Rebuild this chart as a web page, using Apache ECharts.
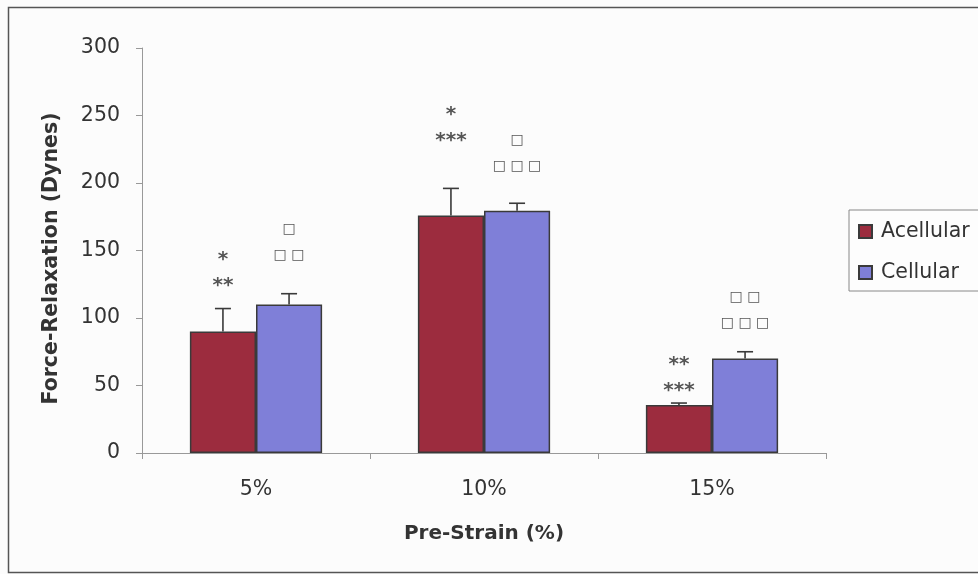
<!DOCTYPE html>
<html>
<head>
<meta charset="utf-8">
<script src="https://cdn.jsdelivr.net/npm/echarts@6/dist/echarts.min.js"></script>
<style>
  html, body { margin: 0; padding: 0; background: #fcfcfc; }
  #chart { width: 978px; height: 574px; }
</style>
</head>
<body>
<div id="chart"></div>
<script>
// Pre-strain levels on the x axis
const categories = ['5%', '10%', '15%'];

// Mean force relaxation (dynes) and upper error (SEM)
const acellular = [90, 176, 35.5];
const acellularErr = [17, 20, 1.5];
const cellular = [110, 179.5, 70];
const cellularErr = [8, 5.5, 5];

// Significance markers: [lower row, upper row] per group
const acellularSig = [['**', '*'], ['***', '*'], ['***', '**']];
const cellularSig = [['□ □', '□'], ['□ □ □', '□'], ['□ □ □', '□ □']];
// Axis value at which the lower marker row sits
const acellularSigLevel = [126.7, 234, 49];
const cellularSigLevel = [146.7, 212, 96.3];

const yTicks = { min: 0, max: 300, interval: 50 };

const FONT = 'DejaVu Sans';
const TEXT = '#333333';
const CAT_GAP = 0.42;

const chart = echarts.init(document.getElementById('chart'), null, { renderer: 'canvas' });

// side: -1 for the left bar of a group, +1 for the right bar
function barCenterX(api, i, side) {
  const c = api.coord([i, 0])[0];
  const catW = api.size([1, 0])[0];
  const barW = catW * (1 - CAT_GAP) / 2;
  return c + side * barW / 2;
}

function errorSeries(values, errs, side) {
  return {
    type: 'custom',
    silent: true,
    z: 4,
    encode: { x: 0, y: 1 },
    data: values.map((v, i) => [i, v, errs[i]]),
    renderItem: function (params, api) {
      const i = api.value(0), v = api.value(1), e = api.value(2);
      const x = barCenterX(api, i, side);
      const y0 = api.coord([i, v])[1];
      const y1 = api.coord([i, v + e])[1];
      const st = { stroke: '#3a3a3a', lineWidth: 1.6 };
      return {
        type: 'group',
        children: [
          { type: 'line', shape: { x1: x, y1: y0, x2: x, y2: y1 }, style: st },
          { type: 'line', shape: { x1: x - 8, y1: y1, x2: x + 8, y2: y1 }, style: st }
        ]
      };
    }
  };
}

function sigSeries(marks, levels, side, fontSize, dy, weight) {
  return {
    type: 'custom',
    silent: true,
    z: 5,
    encode: { x: 0, y: 1 },
    data: levels.map((lv, i) => [i, lv]),
    renderItem: function (params, api) {
      const i = api.value(0), lv = api.value(1);
      const x = barCenterX(api, i, side);
      const y = api.coord([i, lv])[1] + dy;
      const rows = marks[i];
      return {
        type: 'group',
        children: rows.map((t, k) => ({
          type: 'text',
          style: {
            text: t, x: x, y: y - k * 26,
            align: 'center', verticalAlign: 'middle',
            fontSize: fontSize, fontFamily: FONT, fontWeight: weight, fill: '#555'
          }
        }))
      };
    }
  };
}

chart.setOption({
  backgroundColor: '#fcfcfc',
  animation: false,
  textStyle: { fontFamily: FONT, color: TEXT },
  graphic: [
    {
      type: 'rect',
      shape: { x: 8.5, y: 7.5, width: 1000, height: 565 },
      style: { fill: 'none', stroke: '#555', lineWidth: 1.5 },
      z: -1
    }
  ],
  grid: { left: 142, right: 152, top: 48, bottom: 121, containLabel: false },
  legend: {
    data: ['Acellular', 'Cellular'],
    orient: 'vertical',
    left: 849,
    top: 210,
    padding: [11, 20, 8, 9],
    itemGap: 20,
    itemWidth: 13,
    itemHeight: 13,
    icon: 'rect',
    borderColor: '#888',
    borderWidth: 1,
    backgroundColor: '#fdfdfd',
    textStyle: { fontSize: 20.5, fontFamily: FONT, color: TEXT, padding: [0, 0, 0, 4] }
  },
  xAxis: {
    type: 'category',
    data: categories,
    name: 'Pre-Strain (%)',
    nameLocation: 'middle',
    nameGap: 71,
    nameTextStyle: { fontSize: 20, fontWeight: 'bold', fontFamily: FONT, color: TEXT },
    axisLine: { lineStyle: { color: '#999', width: 1 } },
    axisTick: { show: true, length: 6, lineStyle: { color: '#999' } },
    axisLabel: { fontSize: 20.5, color: TEXT, margin: 26, fontFamily: FONT },
    splitLine: { show: false }
  },
  yAxis: {
    type: 'value',
    min: yTicks.min,
    max: yTicks.max,
    interval: yTicks.interval,
    name: 'Force-Relaxation (Dynes)',
    nameLocation: 'middle',
    nameGap: 80,
    nameTextStyle: {
      fontSize: 20.5, fontWeight: 'bold', fontFamily: FONT, color: TEXT,
      padding: [0, 16, 0, 0]
    },
    axisLine: { show: true, lineStyle: { color: '#999', width: 1 } },
    axisTick: { show: true, length: 6, lineStyle: { color: '#999' } },
    axisLabel: { fontSize: 20.5, color: TEXT, margin: 22, fontFamily: FONT },
    splitLine: { show: false }
  },
  series: [
    {
      name: 'Acellular',
      type: 'bar',
      data: acellular,
      barGap: '0%',
      barCategoryGap: (CAT_GAP * 100) + '%',
      itemStyle: { color: '#9c2c3e', borderColor: '#3a3a3a', borderWidth: 1.5 }
    },
    {
      name: 'Cellular',
      type: 'bar',
      data: cellular,
      itemStyle: { color: '#7f7fd8', borderColor: '#3a3a3a', borderWidth: 1.5 }
    },
    errorSeries(acellular, acellularErr, -1),
    errorSeries(cellular, cellularErr, 1),
    sigSeries(acellularSig, acellularSigLevel, -1, 20, 4, 'bold'),
    sigSeries(cellularSig, cellularSigLevel, 1, 14, 0, 'normal')
  ]
});
</script>
</body>
</html>
